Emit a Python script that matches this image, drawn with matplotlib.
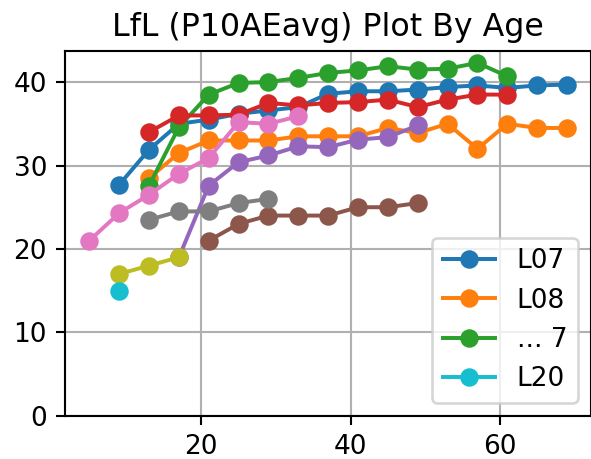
import numpy as np
import matplotlib
matplotlib.use("Agg")
import matplotlib.pyplot as plt

# Age grid shared by all cohorts
ages = list(range(5, 70, 4))

series_names = ["L07", "L08", "L09", "L10", "L11", "L12", "L13", "L14", "L15", "L20"]
first_age = [9, 13, 13, 13, 17, 21, 5, 13, 9, 9]

l07 = [27.7, 31.9, 35.0, 35.5, 36.2, 36.6, 37.0, 38.6, 38.9, 38.9, 39.1, 39.4, 39.6, 39.3, 39.6, 39.7]
l08 = [28.5, 31.5, 33.0, 33.0, 33.0, 33.5, 33.5, 33.5, 34.5, 33.9, 35.0, 32.0, 35.0, 34.5, 34.5]
l09 = [27.6, 34.6, 38.5, 39.9, 40.0, 40.5, 41.1, 41.4, 41.9, 41.5, 41.6, 42.3, 40.7]
l10 = [34.0, 36.0, 36.0, 36.1, 37.5, 37.2, 37.5, 37.6, 37.9, 37.0, 37.9, 38.5, 38.5]
l11 = [19.0, 27.6, 30.4, 31.2, 32.3, 32.2, 33.1, 33.4, 34.8]
l12 = [21.0, 23.0, 24.0, 24.0, 24.0, 25.0, 25.0, 25.5]
l13 = [21.0, 24.3, 26.5, 29.0, 30.9, 35.2, 35.0, 35.9]
l14 = [23.5, 24.5, 24.5, 25.5, 26.0]
l15 = [17.0, 18.0, 19.0]
l20 = [15.0]

values = [l07, l08, l09, l10, l11, l12, l13, l14, l15, l20]

DPI = 190
fig = plt.figure(figsize=(591 / DPI, 459 / DPI), dpi=DPI)
ax = fig.add_axes([0.1108, 0.0941, 0.889, 0.7937])

lines = []
for name, start, vals in zip(series_names, first_age, values):
    i0 = ages.index(start)
    x = ages[i0:i0 + len(vals)]
    (ln,) = ax.plot(x, vals, marker="o", label=name)
    lines.append(ln)

ax.set_ylim(bottom=0)
ax.grid(True)
ax.set_axisbelow(True)
ax.set_title("LfL (P10AEavg) Plot By Age", fontsize=12)

ax.legend([lines[0], lines[1], lines[2], lines[-1]],
          [series_names[0], series_names[1], "... 7", series_names[-1]],
          loc="lower right")

fig.savefig("out.png", dpi=DPI)
